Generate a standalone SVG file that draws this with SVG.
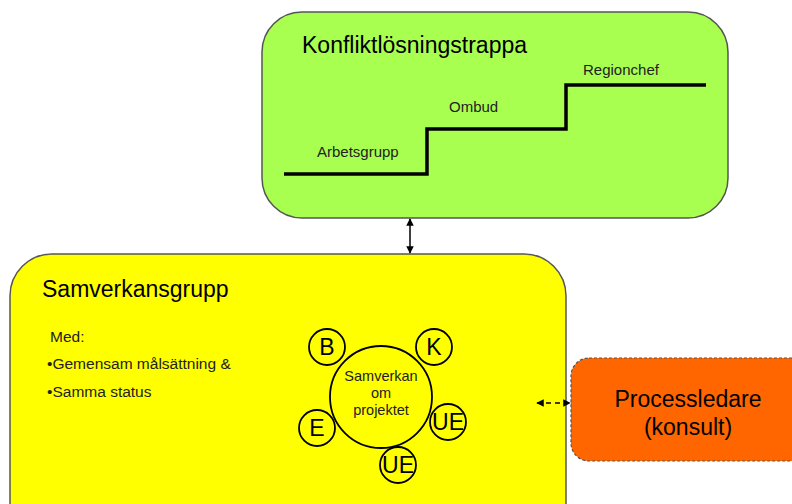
<svg xmlns="http://www.w3.org/2000/svg" width="792" height="504" viewBox="0 0 792 504">
<defs>
<marker id="ah" viewBox="0 0 10 10" refX="9" refY="5" markerWidth="5" markerHeight="5" orient="auto-start-reverse"><path d="M0,0 L10,5 L0,10 z" fill="#000"/></marker>
<style>
text{font-family:"Liberation Sans",Arial,sans-serif;fill:#000}
.t{font-size:23px}
.s{font-size:15px;fill:#222}
.m{font-size:14.5px;text-anchor:middle;fill:#222}
.c{fill:none;stroke:#000;stroke-width:1.8}
.l{font-size:23px;text-anchor:middle}
</style>
</defs>
<rect width="792" height="504" fill="#fff"/>
<g id="konflikt">
<rect x="262" y="12" width="466" height="206" rx="40" fill="#A9FF50" stroke="#555" stroke-width="1.5"/>
<text class="t" x="302" y="53">Konfliktlösningstrappa</text>
<path d="M284,174 H427 V129 H566 V85 H706" fill="none" stroke="#000" stroke-width="3.5"/>
<text class="s" x="317" y="157">Arbetsgrupp</text>
<text class="s" x="449" y="112">Ombud</text>
<text class="s" x="583" y="75">Regionchef</text>
</g>
<g id="samverkansgrupp">
<rect x="10" y="254" width="556" height="290" rx="42" fill="#FFFF00" stroke="#555" stroke-width="1.5"/>
<text class="t" x="42" y="297">Samverkansgrupp</text>
<text class="s" x="50" y="342" style="font-size:15.5px">Med:</text>
<text class="s" x="47" y="369" style="font-size:15.5px">•Gemensam målsättning &amp;</text>
<text class="s" x="47" y="397" style="font-size:15.5px">•Samma status</text>
</g>
<g id="samverkan">
<circle class="c" cx="381" cy="397" r="51"/>
<text class="m" x="381" y="381">Samverkan</text>
<text class="m" x="381" y="398">om</text>
<text class="m" x="381" y="415">projektet</text>
</g>
<g id="B"><circle class="c" cx="327" cy="347" r="18"/><text class="l" x="327" y="355">B</text></g>
<g id="K"><circle class="c" cx="434" cy="347" r="18"/><text class="l" x="434" y="355">K</text></g>
<g id="E"><circle class="c" cx="317" cy="428" r="18"/><text class="l" x="317" y="436">E</text></g>
<g id="UE1"><circle class="c" cx="448" cy="422" r="18"/><text class="l" x="448" y="430">UE</text></g>
<g id="UE2"><circle class="c" cx="398" cy="465" r="18"/><text class="l" x="398" y="473">UE</text></g>
<g id="processledare">
<rect x="571" y="358" width="240" height="103" rx="18" fill="#FF6600" stroke="#555" stroke-width="1.2" stroke-dasharray="3,2"/>
<text class="l" x="688" y="407">Processledare</text>
<text class="l" x="688" y="435">(konsult)</text>
</g>
<g id="connectors" stroke="#000" stroke-width="1.5" fill="none">
<line x1="410" y1="219" x2="410" y2="253" marker-start="url(#ah)" marker-end="url(#ah)"/>
<line x1="537" y1="403" x2="570" y2="403" stroke-dasharray="5,4" marker-start="url(#ah)" marker-end="url(#ah)"/>
</g>
</svg>
